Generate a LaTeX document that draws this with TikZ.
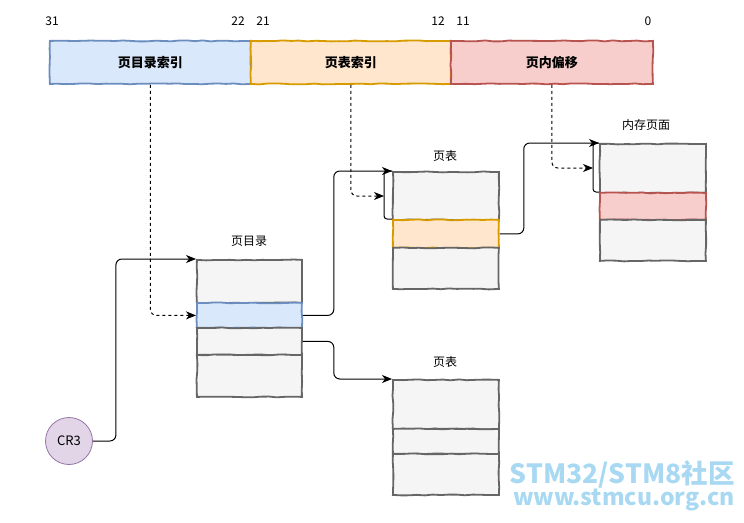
\documentclass[tikz,border=0pt]{standalone}
\usepackage{fontspec}
\setmainfont{Noto Sans CJK SC}
\usetikzlibrary{arrows.meta,decorations.pathmorphing}
\definecolor{bluef}{HTML}{DAE8FC}\definecolor{blued}{HTML}{6C8EBF}
\definecolor{orgf}{HTML}{FFE6CC}\definecolor{orgd}{HTML}{D79B00}
\definecolor{redf}{HTML}{F8CECC}\definecolor{redd}{HTML}{B85450}
\definecolor{grayf}{HTML}{F5F5F5}\definecolor{grayd}{HTML}{666666}
\definecolor{purf}{HTML}{E1D5E7}\definecolor{purd}{HTML}{9673A6}
\definecolor{wm}{HTML}{A9D9F2}
\begin{document}
\pgfmathsetseed{7}
\begin{tikzpicture}[x=1pt,y=-1pt,
  sk/.style={decorate,decoration={random steps,segment length=8pt,amplitude=0.5pt}},
  cell/.style={sk,draw=grayd,fill=grayf,line width=1.8pt,anchor=north west,inner sep=0pt,minimum width=105pt},
  bluecell/.style={cell,draw=blued,fill=bluef},
  orgcell/.style={cell,draw=orgd,fill=orgf},
  redcell/.style={cell,draw=redd,fill=redf},
  barcell/.style={sk,line width=1.8pt,anchor=north west,inner sep=0pt,minimum height=43pt,font=\fontsize{13}{15}\selectfont\bfseries},
  num/.style={font=\fontsize{12}{14}\selectfont},
  lbl/.style={font=\fontsize{12}{14}\selectfont},
  conn/.style={draw=black,line width=1pt,rounded corners=6pt,-{Stealth[length=10pt,width=8pt,inset=3pt]}},
  dconn/.style={conn,dashed},
  brk/.style={draw=black,line width=1pt,rounded corners=3pt}]
\useasboundingbox (0,0) rectangle (744,522);
% address bar
\node[barcell,draw=blued,fill=bluef,minimum width=201pt] (bar1) at (49,40) {页目录索引};
\node[barcell,draw=orgd,fill=orgf,minimum width=200pt] (bar2) at (250,40) {页表索引};
\node[barcell,draw=redd,fill=redf,minimum width=202pt] (bar3) at (450,40) {页内偏移};
\node[num] (n31) at (52,21) {31};
\node[num] (n22) at (238,21) {22};
\node[num] (n21) at (263,21) {21};
\node[num] (n12) at (438,21) {12};
\node[num] (n11) at (463,21) {11};
\node[num] (n0) at (648,21) {0};
% page directory
\node[lbl] (dl) at (249,241) {页目录};
\node[cell,minimum height=43pt] (d1) at (196,259) {};
\node[bluecell,minimum height=25pt] (d2) at (196,302) {};
\node[cell,minimum height=27pt] (d3) at (196,327) {};
\node[cell,minimum height=42pt] (d4) at (196,354) {};
% page table 1
\node[lbl] (t1l) at (445,156) {页表};
\node[cell,minimum width=106pt,minimum height=48pt] (t1a) at (392,171) {};
\node[orgcell,minimum width=106pt,minimum height=28pt] (t1b) at (392,219) {};
\node[cell,minimum width=106pt,minimum height=41pt] (t1c) at (392,247) {};
% page table 2
\node[lbl] (t2l) at (445,362) {页表};
\node[cell,minimum width=106pt,minimum height=49pt] (t2a) at (392,379) {};
\node[cell,minimum width=106pt,minimum height=25pt] (t2b) at (392,428) {};
\node[cell,minimum width=106pt,minimum height=41pt] (t2c) at (392,453) {};
% memory page
\node[lbl] (ml) at (646,125) {内存页面};
\node[cell,minimum width=106pt,minimum height=49pt] (ma) at (599,143) {};
\node[redcell,minimum width=106pt,minimum height=27pt] (mb) at (599,192) {};
\node[cell,minimum width=106pt,minimum height=41pt] (mc) at (599,219) {};
% CR3
\node[circle,draw=purd,fill=purf,line width=0.8pt,minimum size=47pt,inner sep=0pt,font=\fontsize{13}{15}\selectfont] (cr3) at (69,441) {CR3};
% connectors
\coordinate (b1) at (384,196);
\coordinate (b2) at (593,168);
\draw[conn] (cr3.east) -- ++(23,0) |- (d1.north west);
\draw[dconn] (bar1.south) |- (d2.west);
\draw[conn] (d2.east) -- ++(31,0) |- (t1a.north west);
\draw[conn] (d3.east) -- ++(31,0) |- (t2a.north west);
\draw[brk] (t1a.north west) -| (b1) |- (t1b.north west);
\draw[dconn] (bar2.south) |- (b1);
\draw[conn] (t1b.east) -- ++(24,0) |- (ma.north west);
\draw[brk] (ma.north west) -| (b2) |- (mb.north west);
\draw[dconn] (bar3.south) |- (b2);
% watermark
\node[text=wm,anchor=north east,font=\fontsize{26.5}{28}\selectfont\bfseries] (wm1) at (738,457) {STM32/STM8社区};
\node[text=wm,anchor=north east,font=\fontsize{23}{25}\selectfont\bfseries] (wm2) at (738,485) {www.stmcu.org.cn};
\end{tikzpicture}
\end{document}
